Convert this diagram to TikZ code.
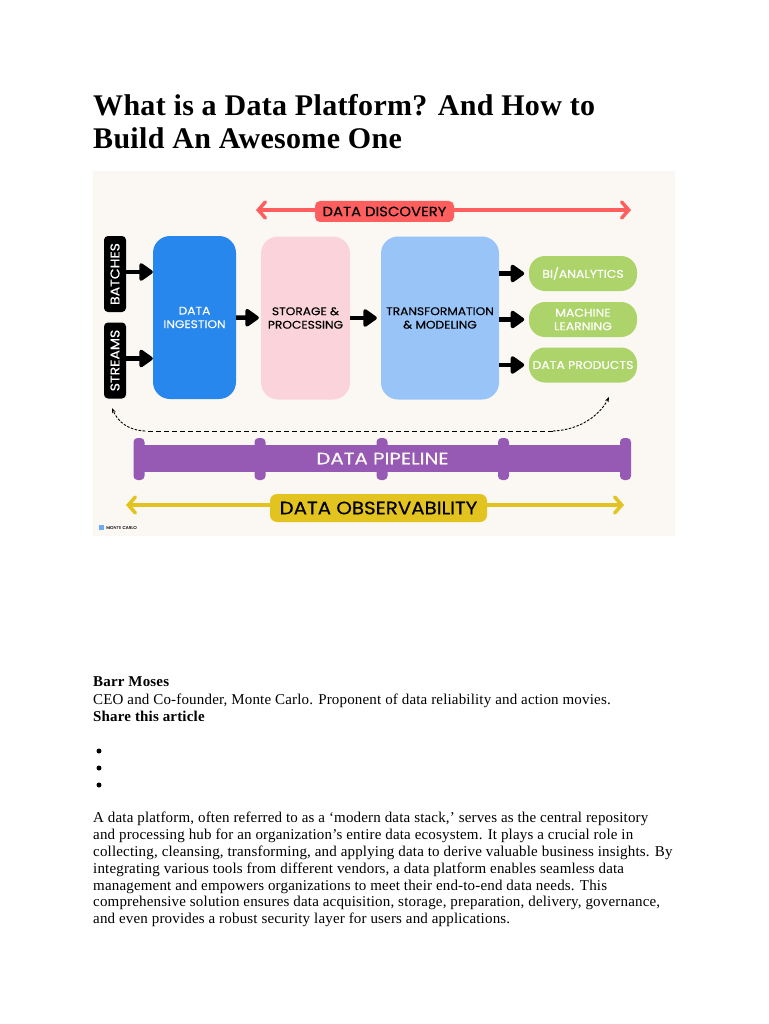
\documentclass[tikz,border=0pt]{standalone}
\usepackage{fontspec}
\setmainfont{Liberation Serif}
\newfontfamily\bodyfont[LetterSpace=1.15]{Liberation Serif}
\newfontfamily\titlefont[LetterSpace=1.05]{Liberation Serif}
\newfontfamily\diagfont[FakeStretch=1.1,FakeBold=0.3]{Poppins}
\newfontfamily\widefont[FakeStretch=1.2,FakeBold=0.4]{Poppins}
\usepackage{xcolor}
\usetikzlibrary{arrows.meta,positioning,calc}
\definecolor{paper}{HTML}{FBF8F3}
\definecolor{discred}{HTML}{FF5E5E}
\definecolor{ingblue}{HTML}{2787EC}
\definecolor{storepink}{HTML}{FBD3DA}
\definecolor{transblue}{HTML}{98C4F8}
\definecolor{prodgreen}{HTML}{ADD46A}
\definecolor{pipepurple}{HTML}{965AB5}
\definecolor{obsyellow}{HTML}{E2C31F}

\begin{document}
\begin{tikzpicture}[x=1pt,y=-1pt,
    stage/.style={rectangle, rounded corners=17pt, align=center, inner sep=0pt,
                minimum height=163pt, font=\diagfont\fontsize{11.1}{13.5}\selectfont},
    source/.style={rectangle, fill=black, text=white, rounded corners=4pt, rotate=90, inner sep=0pt,
                minimum width=76pt, minimum height=22pt, font=\diagfont\fontsize{12.8}{14}\selectfont},
    output/.style={rectangle, fill=prodgreen, text=white, rounded corners=16pt, align=center, inner sep=0pt,
                minimum width=108pt, minimum height=35pt, font=\diagfont\fontsize{11.3}{13.5}\selectfont},
    banner/.style={rectangle, rounded corners=5pt, inner sep=0pt, text=black},
    arr/.style={-{Triangle[round,length=15pt,width=20pt]}, line width=4.5pt, black},
    longarr/.style={{Straight Barb[length=7pt,width=16pt,line cap=round]}-{Straight Barb[length=7pt,width=16pt,line cap=round]}, line width=3.5pt},
    tick/.style={fill=pipepurple, rounded corners=4pt},
    head/.style={anchor=west, inner sep=0pt, font=\titlefont\bfseries\fontsize{30}{33}\selectfont},
    bodyline/.style={anchor=base west, inner sep=0pt, font=\bodyfont\fontsize{15}{17}\selectfont},
    bullet/.style={circle, fill=black, inner sep=0pt, minimum size=5pt}
]
    \useasboundingbox (0,0) rectangle (768,1024);
    \fill[white] (0,0) rectangle (768,1024);

    % title
    \node[head] (title1) at (93,105) {What is a Data Platform? And How to};
    \node[head] (title2) at (93,138) {Build An Awesome One};

    % diagram
    \fill[paper] (93,171) rectangle (675,536);

    \coordinate (discL) at (256,210);
    \coordinate (discR) at (631,210);
    \draw[longarr, discred] (discL) -- (discR);
    \node[banner, fill=discred, minimum width=139pt, minimum height=21pt, font=\diagfont\fontsize{13.5}{14}\selectfont]
        (disc) at (384.5,211.5) {DATA DISCOVERY};

    \node[source] (batches) at (115,274) {BATCHES};
    \node[source] (streams) at (115,360.5) {STREAMS};
    \node[stage, fill=ingblue, text=white, minimum width=83pt] (ingest) at (194.5,317.5) {DATA\\INGESTION};
    \node[stage, fill=storepink, text=black, minimum width=89pt] (store) at (305.5,318) {STORAGE \&\\PROCESSING};
    \node[stage, fill=transblue, text=black, minimum width=118pt] (trans) at (440,318) {TRANSFORMATION\\\& MODELING};

    \node[output] (bi) at (583,273.5) {BI/ANALYTICS};
    \node[output] (ml) at (583,319.5) {MACHINE\\LEARNING};
    \node[output] (prod) at (583,365) {DATA PRODUCTS};

    \draw[arr] ([yshift=2pt]batches.south) -- ([yshift=2pt]batches.south -| ingest.west);
    \draw[arr] ([yshift=2pt]streams.south) -- ([yshift=2pt]streams.south -| ingest.west);
    \draw[arr, shorten >=2pt] (ingest) -- (store);
    \draw[arr, shorten >=4pt] (store) -- (trans);
    \draw[arr] (trans.east |- bi) -- ++(25,0);
    \draw[arr] (trans.east |- ml) -- ++(25,0);
    \draw[arr] (trans.east |- prod) -- ++(25,0);

    % feedback path
    \coordinate (loopL) at (112,408);
    \coordinate (loopR) at (609,397);
    \coordinate (loopA) at (553,431);
    \coordinate (loopB) at (145,431);
    \draw[line width=0.9pt, dash pattern=on 5pt off 3pt] (loopA) -- (loopB);
    \draw[line width=0.9pt, dash pattern=on 2.5pt off 1.5pt, -{Stealth[length=5pt]}] (loopB) .. controls (128,430) and (118,422) .. (loopL);
    \draw[line width=0.9pt, dash pattern=on 2.5pt off 1.5pt, -{Stealth[length=5pt]}] (loopA) .. controls (580,430) and (600,415) .. (loopR);

    % pipeline
    \fill[pipepurple] (134,445) rectangle (631,472);
    \foreach \px in {139,260,382,503.5,625.5}
        \fill[tick] (\px-5.5,438) rectangle (\px+5.5,480);
    \node[inner sep=0pt, text=paper, font=\widefont\fontsize{16.5}{18}\selectfont] (pipe) at (382.5,458.5) {DATA PIPELINE};

    \coordinate (obsL) at (126,505);
    \coordinate (obsR) at (624,505);
    \draw[longarr, obsyellow] (obsL) -- (obsR);
    \node[banner, fill=obsyellow, rounded corners=7pt, minimum width=217pt, minimum height=28pt, font=\diagfont\fontsize{18}{20}\selectfont]
        (obs) at (378.5,508) {DATA OBSERVABILITY};

    % logo
    \fill[transblue!60!ingblue] (99,525) rectangle (104,530);
    \node[anchor=west, inner sep=0pt, text=black!70, font=\diagfont\fontsize{4}{4}\selectfont] (logo) at (106,527.5) {MONTE CARLO};

    % article text
    \node[bodyline, font=\bodyfont\bfseries\fontsize{15}{17}\selectfont] (author) at (93,686) {Barr Moses};
    \node[bodyline] (role) at (93,704) {CEO and Co-founder, Monte Carlo. Proponent of data reliability and action movies.};
    \node[bodyline, font=\bodyfont\bfseries\fontsize{15}{17}\selectfont] (share) at (93,721) {Share this article};
    \foreach \by [count=\bi] in {751,768,785}
        \node[bullet] (dot\bi) at (99,\by) {};
    \foreach \ty/\tline [count=\li] in {
        822/{A data platform, often referred to as a ‘modern data stack,’ serves as the central repository},
        839/{and processing hub for an organization’s entire data ecosystem. It plays a crucial role in},
        856/{collecting, cleansing, transforming, and applying data to derive valuable business insights. By},
        873/{integrating various tools from different vendors, a data platform enables seamless data},
        890/{management and empowers organizations to meet their end-to-end data needs. This},
        906/{comprehensive solution ensures data acquisition, storage, preparation, delivery, governance,},
        923/{and even provides a robust security layer for users and applications.}}
        \node[bodyline] (para\li) at (93,\ty) {\tline};
\end{tikzpicture}
\end{document}
